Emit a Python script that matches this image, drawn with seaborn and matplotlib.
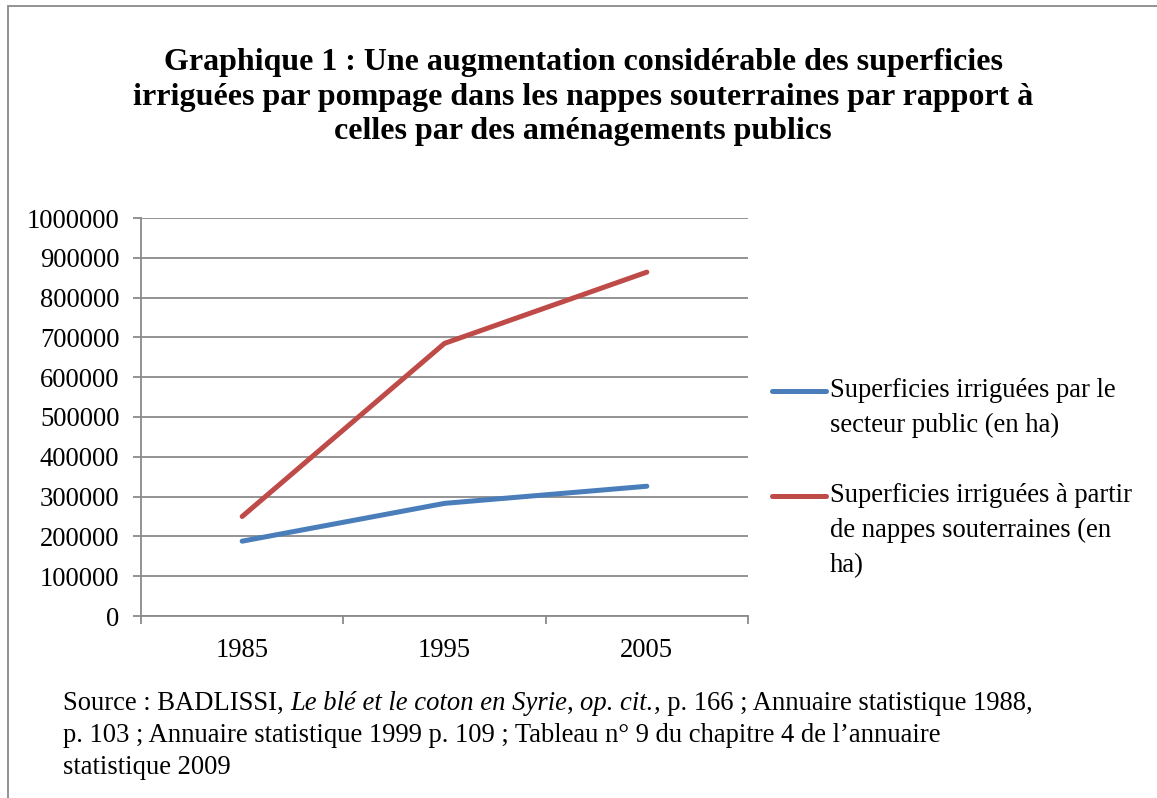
import numpy as np
import pandas as pd
import matplotlib
matplotlib.use("Agg")
import matplotlib.pyplot as plt
import seaborn as sns
from matplotlib.lines import Line2D
from matplotlib.patches import Rectangle

years = ["1985", "1995", "2005"]
public_sector = [188000, 283000, 326000]
groundwater = [250000, 685000, 864000]
series_names = ["Superficies irriguées par le\nsecteur public (en ha)",
                "Superficies irriguées à partir\nde nappes souterraines (en\nha)"]
y_ticks = list(range(0, 1000001, 100000))

title = ("Graphique 1 : Une augmentation considérable des superficies\n"
         "irriguées par pompage dans les nappes souterraines par rapport à\n"
         "celles par des aménagements publics")

sns.set_theme(style="white")
plt.rcParams['font.family'] = ['Liberation Serif', 'DejaVu Serif']
plt.rcParams['text.color'] = 'black'

df = pd.DataFrame({
    "year": years * 2,
    "value": public_sector + groundwater,
    "series": [series_names[0]] * 3 + [series_names[1]] * 3,
})
palette = {series_names[0]: "#4A7EBB", series_names[1]: "#BE4B48"}

FS = 19.2
W, H = 1157, 798
fig = plt.figure(figsize=(W / 100, H / 100), dpi=100)
ax = fig.add_axes([141 / W, 1 - 616 / H, (748 - 141) / W, (616 - 218) / H])

sns.lineplot(data=df, x="year", y="value", hue="series", palette=palette,
             linewidth=3.6, ax=ax, legend=False, sort=False,
             solid_capstyle="round")

ax.set_xlim(-0.5, 2.5)
ax.set_ylim(0, 1000000)
ax.set_yticks(y_ticks)
ax.set_yticklabels([str(v) for v in y_ticks])
ax.set_xticks([0, 1, 2])
ax.set_xticklabels(years)
ax.set_xticks([-0.5, 0.5, 1.5, 2.5], minor=True)
ax.set_xlabel("")
ax.set_ylabel("")

ax.grid(axis="y", color="#8a8a8a", linewidth=1.3)
ax.set_axisbelow(True)
for s in ["top", "right"]:
    ax.spines[s].set_visible(False)
for s in ["left", "bottom"]:
    ax.spines[s].set_color("#8a8a8a")
    ax.spines[s].set_linewidth(1.3)

ax.tick_params(axis="y", which="major", left=True, length=6, width=1.3,
               color="#8a8a8a", pad=9.5, labelsize=FS, labelcolor="black")
ax.tick_params(axis="x", which="major", bottom=False, pad=10, labelsize=FS,
               labelcolor="black")
ax.tick_params(axis="x", which="minor", bottom=True, length=6, width=1.3,
               color="#8a8a8a")

fig.text(583 / W, 1 - 97 / H, title, ha="center", va="center",
         fontsize=23, fontweight="bold", linespacing=1.26, color="black")

# legend, drawn by hand so the line sits on the first text line
for name, ytop in zip(series_names, [391, 496]):
    y = 1 - ytop / H
    fig.add_artist(Line2D([772 / W, 826 / W], [y, y], color=palette[name],
                          linewidth=3.6, solid_capstyle="round"))
    fig.text(830 / W, 1 - (ytop - 13) / H, name, ha="left", va="top",
             fontsize=FS, linespacing=1.52, color="black")

# source note with italic parts
renderer = fig.canvas.get_renderer()
lines = [
    [("Source : BADLISSI, ", "normal"), ("Le blé et le coton en Syrie", "italic"),
     (", ", "normal"), ("op. cit.", "italic"),
     (", p. 166 ; Annuaire statistique 1988,", "normal")],
    [("p. 103 ; Annuaire statistique 1999 p. 109 ; Tableau n° 9 du chapitre 4 de l’annuaire", "normal")],
    [("statistique 2009", "normal")],
]
for row, yc in zip(lines, [700, 732, 764]):
    x = 63 / W
    for txt, style in row:
        t = fig.text(x, 1 - yc / H, txt, ha="left", va="center_baseline",
                     fontsize=FS, style=style, color="black")
        bb = t.get_window_extent(renderer=renderer)
        x += bb.width / W

fig.add_artist(Rectangle((7.5 / W, -0.1), 1.2, 1 - 6.5 / H + 0.1,
                         transform=fig.transFigure, fill=False,
                         edgecolor="#8a8a8a", linewidth=1.3))

fig.savefig("out.png", dpi=100)
